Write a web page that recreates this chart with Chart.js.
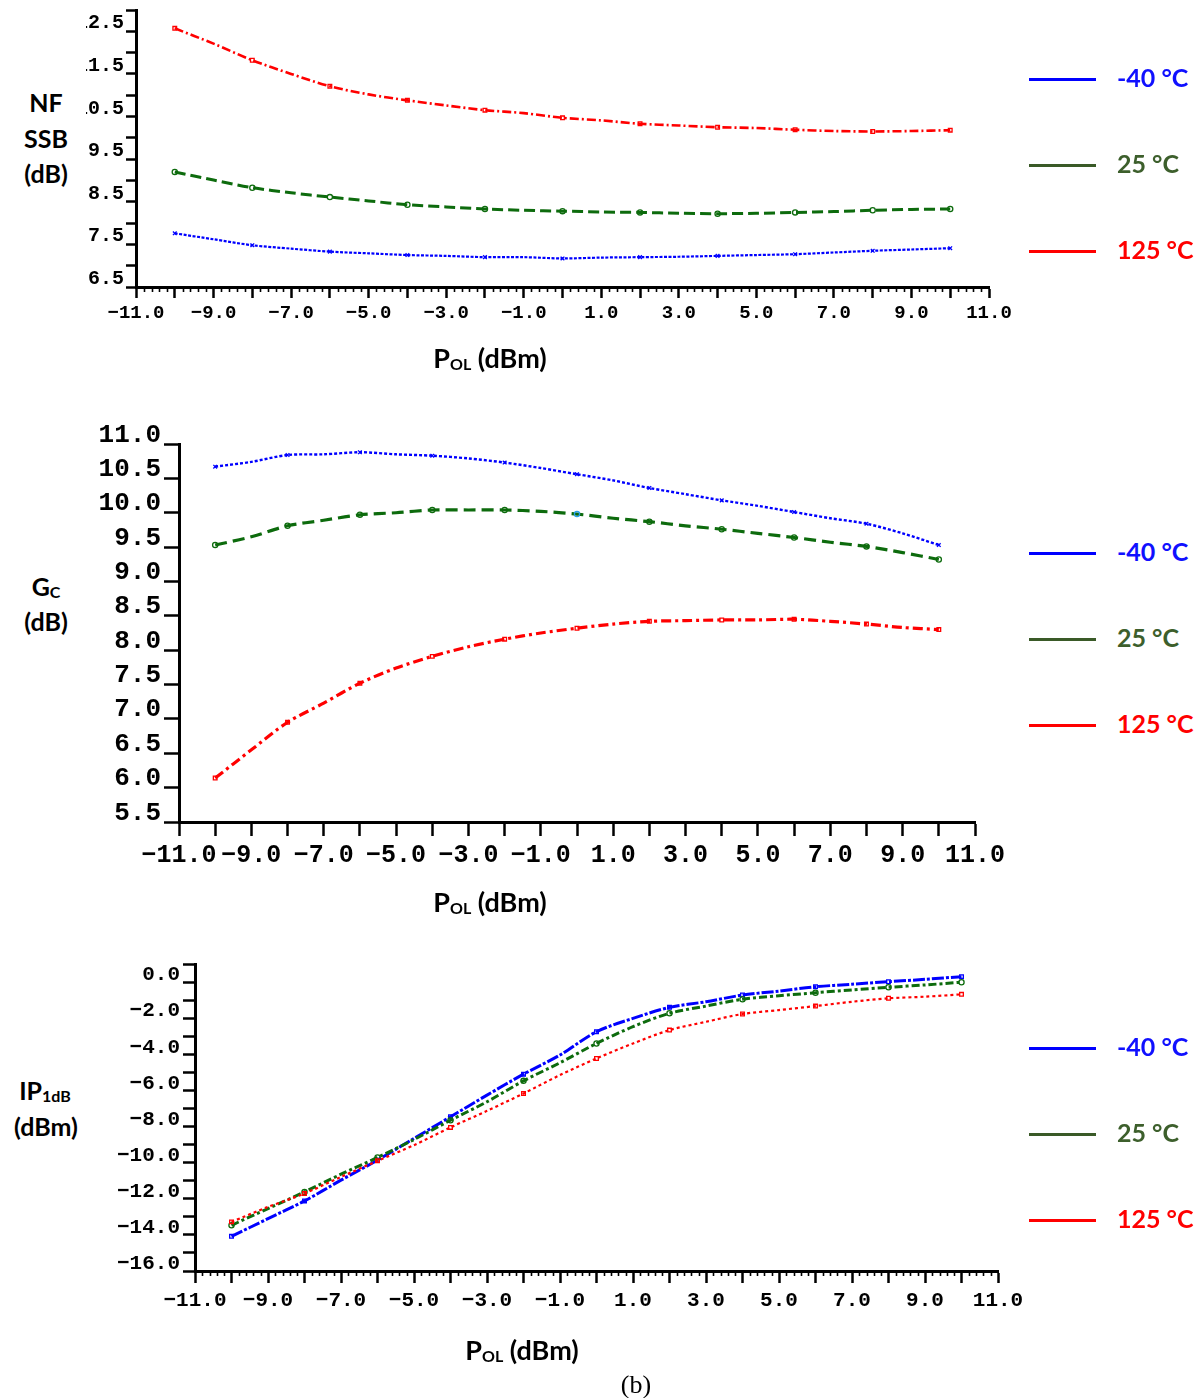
<!DOCTYPE html>
<html>
<head>
<meta charset="utf-8">
<script src="https://cdn.jsdelivr.net/npm/chart.js@4.4.1/dist/chart.umd.min.js"></script>
<style>
  html, body { margin:0; padding:0; background:#fff; }
  body { width:1202px; height:1398px; position:relative; overflow:hidden; }
  .lbl { position:absolute; transform:translate(-50%,-50%); font-family:Lato, "Open Sans", sans-serif; font-weight:700; font-size:25px; color:#000; white-space:nowrap; line-height:1; }
  .sub { font-size:16px; vertical-align:-0.15em; }
  .legline { position:absolute; height:3px; width:67px; left:1029px; }
  .legtxt { position:absolute; left:1117px; transform:translateY(-50%); font-family:Lato, "Open Sans", sans-serif; font-weight:700; font-size:25px; white-space:nowrap; line-height:1; }
  .clip { position:absolute; overflow:hidden; }
  canvas { position:absolute; }
</style>
</head>
<body>
<script>
// ---------------- DATA ----------------
const polValues = [-10,-9,-8,-7,-6,-5,-4,-3,-2,-1,0,1,2,3,4,5,6,7,8,9,10];
const tempLabels = ['-40 °C', '25 °C', '125 °C'];

// NF SSB (dB)
const nfM40 = [7.76,7.62,7.48,7.40,7.33,7.29,7.25,7.23,7.20,7.20,7.17,7.19,7.20,7.21,7.23,7.25,7.27,7.31,7.35,7.38,7.41];
const nf25  = [9.20,9.01,8.83,8.71,8.61,8.52,8.43,8.38,8.33,8.30,8.28,8.26,8.25,8.23,8.22,8.23,8.25,8.27,8.30,8.32,8.33];
const nf125 = [12.57,12.21,11.82,11.50,11.21,11.02,10.88,10.76,10.65,10.58,10.47,10.41,10.33,10.29,10.25,10.23,10.19,10.16,10.15,10.16,10.18];

// Gc (dB)
const gcM40 = [10.67,10.74,10.84,10.85,10.88,10.85,10.83,10.79,10.73,10.65,10.56,10.47,10.36,10.27,10.18,10.10,10.01,9.92,9.84,9.70,9.53];
const gc25  = [9.53,9.65,9.81,9.89,9.97,10.00,10.04,10.04,10.04,10.02,9.98,9.92,9.87,9.81,9.76,9.70,9.64,9.57,9.51,9.42,9.32];
const gc125 = [6.14,6.55,6.95,7.23,7.52,7.74,7.91,8.05,8.16,8.25,8.32,8.38,8.42,8.43,8.44,8.44,8.45,8.42,8.38,8.33,8.30];

// IP1dB (dBm)
const ipM40 = [-14.08,-13.10,-12.12,-10.97,-9.86,-8.66,-7.46,-6.26,-5.10,-4.04,-2.75,-2.01,-1.40,-1.09,-0.72,-0.50,-0.26,-0.12,0.02,0.15,0.30];
const ip25  = [-13.47,-12.54,-11.62,-10.64,-9.71,-8.72,-7.65,-6.63,-5.47,-4.47,-3.40,-2.47,-1.73,-1.33,-0.95,-0.76,-0.59,-0.44,-0.29,-0.16,-0.01];
const ip125 = [-13.28,-12.45,-11.71,-10.79,-9.90,-9.03,-8.05,-7.13,-6.17,-5.15,-4.23,-3.40,-2.66,-2.20,-1.77,-1.55,-1.33,-1.09,-0.90,-0.81,-0.68];

// ---------------- STYLE ----------------
const BLUE = '#0000ff', GREEN = '#0d6b0d', RED = '#ff0000';
const LEG_COLORS = ['#0000ff', '#3a5a28', '#ff0000'];
const LEG_TEXT = ['#1010ff', '#3d5f2c', '#ff0000'];
const MONO = '"Liberation Mono", "DejaVu Sans Mono", monospace';

function fmt(v) {
  const s = Math.abs(v).toFixed(1);
  return v < -1e-9 ? '\u2212' + s : s;
}

function ds(label, values, color, dash, width, pointStyle, pointColorFn) {
  return {
    label,
    data: polValues.map((x, i) => ({ x: x, y: values[i] })),
    borderColor: color,
    backgroundColor: color,
    borderDash: dash,
    borderWidth: width,
    tension: 0.3,
    fill: false,
    pointStyle: pointStyle,
    pointRadius: c => (polValues[c.dataIndex] % 2 === 0 ? 2.6 : 0),
    pointBorderWidth: 1.3,
    pointBorderColor: pointColorFn || color,
    pointBackgroundColor: 'rgba(255,255,255,0)'
  };
}

function minorTickPlugin(step, len) {
  return {
    id: 'minorTicks',
    afterDraw(chart) {
      if (!step) return;
      const s = chart.scales.x, c = chart.ctx;
      c.save();
      c.strokeStyle = '#000';
      c.lineWidth = 1.6;
      const n0 = Math.round(s.min / step), n1 = Math.round(s.max / step);
      for (let k = n0; k <= n1; k++) {
        const v = k * step;
        if (Math.abs(v - Math.round(v)) < 1e-6) continue;
        const px = Math.round(s.getPixelForValue(v)) + 0.5;
        c.beginPath();
        c.moveTo(px, s.top);
        c.lineTo(px, s.top + len);
        c.stroke();
      }
      c.restore();
    }
  };
}

// g: {L,T,R,B} chart area (page coords), yW, xH, clipLeft
function makeChart(g, yOpt, xOpt, datasets) {
  const cl = g.L - g.yW - 10, ct = g.T - 30;
  const cw = g.R + 50 - cl, ch = g.B + g.xH + 10 - ct;
  const wrap = document.createElement('div');
  wrap.className = 'clip';
  const wl = g.clipLeft !== undefined ? g.clipLeft : 0;
  const wt = Math.max(0, ct);
  wrap.style.left = wl + 'px';
  wrap.style.top = wt + 'px';
  wrap.style.width = (1202 - wl) + 'px';
  wrap.style.height = (ch + ct - wt) + 'px';
  const cv = document.createElement('canvas');
  cv.width = cw; cv.height = ch;
  cv.style.width = cw + 'px'; cv.style.height = ch + 'px';
  cv.style.left = (cl - wl) + 'px';
  cv.style.top = (ct - wt) + 'px';
  wrap.appendChild(cv);
  document.body.appendChild(wrap);

  return new Chart(cv.getContext('2d'), {
    type: 'line',
    data: { datasets },
    plugins: [minorTickPlugin(xOpt.minor, 5)],
    options: {
      responsive: false,
      animation: false,
      devicePixelRatio: 1,
      layout: { padding: { left: 10, top: 30, right: 50, bottom: 10 } },
      plugins: { legend: { display: false }, tooltip: { enabled: false } },
      elements: { line: { borderCapStyle: 'butt' } },
      scales: {
        x: {
          type: 'linear',
          min: -11, max: 11,
          afterFit: s => { s.height = g.xH; },
          border: { display: true, color: '#000', width: 3 },
          grid: { drawOnChartArea: false, drawTicks: true, tickLength: xOpt.tickLen, tickWidth: 2.5, tickColor: '#000' },
          ticks: {
            stepSize: 1,
            autoSkip: false, maxRotation: 0, minRotation: 0,
            padding: xOpt.pad,
            color: '#000',
            font: { family: MONO, size: xOpt.font, weight: 'bold' },
            callback: v => (Math.abs((v + 11) % 2) < 1e-6 ? fmt(v) : '')
          }
        },
        y: {
          type: 'linear',
          min: yOpt.min, max: yOpt.max,
          afterFit: s => { s.width = g.yW; },
          border: { display: true, color: '#000', width: 3 },
          grid: { drawOnChartArea: false, drawTicks: true, tickLength: yOpt.tickLen, tickWidth: 2.5, tickColor: '#000' },
          ticks: {
            stepSize: yOpt.step,
            autoSkip: false,
            padding: yOpt.pad,
            labelOffset: yOpt.labelOffset,
            color: '#000',
            font: { family: MONO, size: yOpt.font, weight: 'bold' },
            callback: yOpt.cb
          }
        }
      }
    }
  });
}

// ---------- Chart 1: NF SSB ----------
makeChart(
  { L: 136, T: 9.5, R: 989, B: 287, yW: 60, xH: 50, clipLeft: 86 },
  { min: 6.5, max: 13, step: 0.5, tickLen: 10, pad: 2, labelOffset: -8, font: 20,
    cb: v => (Math.abs(((v - 6.5) % 1)) < 1e-6 && v < 12.9 ? fmt(v) : '') },
  { tickLen: 11, pad: 4, font: 19, minor: 0.2 },
  [
    ds(tempLabels[0], nfM40, BLUE, [3, 1.5], 2.2, 'crossRot'),
    ds(tempLabels[1], nf25, GREEN, [11, 5], 3, 'circle'),
    ds(tempLabels[2], nf125, RED, [9, 3, 2, 3], 2.6, 'rect')
  ]
);

// ---------- Chart 2: Gc ----------
makeChart(
  { L: 179, T: 444, R: 975, B: 822, yW: 82, xH: 60 },
  { min: 5.5, max: 11, step: 0.5, tickLen: 15, pad: 3, labelOffset: -9, font: 26,
    cb: v => fmt(v) },
  { tickLen: 14, pad: 5, font: 25, minor: 0 },
  [
    ds(tempLabels[0], gcM40, BLUE, [3, 2], 2.4, 'crossRot'),
    ds(tempLabels[1], gc25, GREEN, [12, 6], 3.2, 'circle',
       c => (polValues[c.dataIndex] === 0 ? '#2aa0e8' : GREEN)),
    ds(tempLabels[2], gc125, RED, [10, 4, 3, 4], 3.2, 'rect')
  ]
);

// ---------- Chart 3: IP1dB ----------
makeChart(
  { L: 195, T: 964, R: 998, B: 1271, yW: 80, xH: 55 },
  { min: -16, max: 1, step: 1, tickLen: 12, pad: 3, labelOffset: -7, font: 21,
    cb: v => (Math.abs(v % 2) < 1e-6 && v <= 0 ? fmt(v) : '') },
  { tickLen: 12, pad: 5, font: 21, minor: 0.2 },
  [
    ds(tempLabels[2], ip125, RED, [3, 3], 2.2, 'rect'),
    ds(tempLabels[1], ip25, GREEN, [8, 3, 3, 3], 3, 'circle'),
    ds(tempLabels[0], ipM40, BLUE, [12, 2, 3, 2], 3, 'rect')
  ]
);

// ---------------- TEXT ----------------
function addLabel(html, x, y, extra) {
  const d = document.createElement('div');
  d.className = 'lbl';
  d.innerHTML = html;
  d.style.left = x + 'px';
  d.style.top = y + 'px';
  if (extra) Object.assign(d.style, extra);
  document.body.appendChild(d);
}
addLabel('NF', 46, 102);
addLabel('SSB', 46, 138);
addLabel('(dB)', 46, 173);
addLabel('G<span class="sub">C</span>', 46, 587);
addLabel('(dB)', 46, 621);
addLabel('IP<span class="sub">1dB</span>', 45, 1091);
addLabel('(dBm)', 46, 1126);
addLabel('P<span class="sub">OL</span> (dBm)', 490, 358, { fontSize: '27px' });
addLabel('P<span class="sub">OL</span> (dBm)', 490, 902, { fontSize: '27px' });
addLabel('P<span class="sub">OL</span> (dBm)', 522, 1350, { fontSize: '27px' });
addLabel('(b)', 636, 1385, { fontFamily: '"Liberation Serif", serif', fontWeight: '400', fontSize: '26px' });

function addLegend(yLines) {
  yLines.forEach((y, i) => {
    const l = document.createElement('div');
    l.className = 'legline';
    l.style.top = (y - 1.5) + 'px';
    l.style.background = LEG_COLORS[i];
    document.body.appendChild(l);
    const t = document.createElement('div');
    t.className = 'legtxt';
    t.style.top = (y - 2) + 'px';
    t.style.color = LEG_TEXT[i];
    t.textContent = tempLabels[i];
    document.body.appendChild(t);
  });
}
addLegend([79, 165, 251]);
addLegend([553, 639, 725]);
addLegend([1048, 1134, 1220]);
</script>
</body>
</html>
